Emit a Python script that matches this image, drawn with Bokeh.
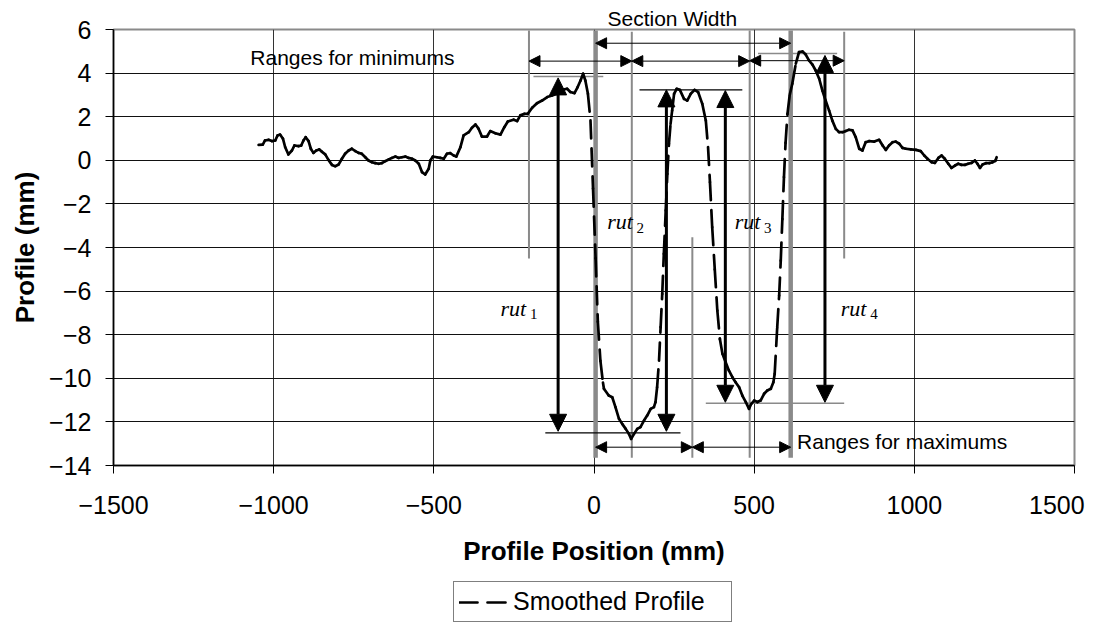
from bokeh.plotting import figure
from bokeh.layouts import column
from bokeh.models import (Range1d, FixedTicker, Arrow, NormalHead, Legend,
                          LegendItem, ColumnDataSource)
from bokeh.core.properties import value
from bokeh.embed import file_html
from bokeh.resources import INLINE

# ---------------- data ----------------
x_ticks = [-1500, -1000, -500, 0, 500, 1000, 1500]
y_ticks = [-14, -12, -10, -8, -6, -4, -2, 0, 2, 4, 6]

prof_x = [-1047, -1034, -1027, -1016, -1006, -995, -988, -980, -971, -964, -954, -943, -935,
          -922, -914, -907, -900, -891, -884, -876, -867, -858, -850, -839, -829, -818, -808,
          -797, -787, -777, -766, -756, -745, -735, -725, -714, -704, -693, -683, -672, -662,
          -652, -641, -631, -620, -610, -600, -589, -579, -568, -558, -547, -537, -527, -516,
          -511, -503, -490, -480, -469, -459, -449, -438, -430, -417, -407, -391, -381, -370,
          -360, -350, -334, -324, -308, -292, -280, -269, -251, -240, -230, -217, -207, -193,
          -178, -162, -146, -131, -115, -100, -84, -74, -61, -51, -42, -34, -27, -19, -11,
          -3, 5, 12, 20, 28, 31, 46, 57, 67, 78, 88, 99, 109, 116, 125, 135, 145, 156, 166,
          177, 187, 192, 197, 203, 208, 213, 218, 224, 229, 234, 239, 244, 250, 258, 268, 281,
          291, 302, 314, 325, 338, 349, 356, 362, 369, 377, 385, 393, 401, 411, 421, 432, 442,
          453, 463, 474, 484, 491, 500, 510, 520, 531, 541, 552, 560, 564, 572, 578, 583, 588,
          593, 598, 604, 611, 619, 630, 640, 651, 661, 671, 682, 692, 703, 713, 723, 734, 744,
          755, 765, 776, 786, 796, 807, 817, 828, 838, 848, 859, 875, 890, 901, 911, 921, 932,
          942, 953, 963, 973, 989, 1005, 1020, 1031, 1041, 1054, 1064, 1075, 1085, 1095, 1106,
          1116, 1127, 1137, 1147, 1158, 1168, 1179, 1189, 1197, 1205, 1213, 1224, 1234, 1244,
          1253, 1257]
prof_y = [0.71, 0.72, 0.91, 0.94, 0.88, 0.91, 1.14, 1.18, 0.99, 0.60, 0.27, 0.45, 0.68,
          0.65, 0.68, 0.91, 1.06, 0.88, 0.53, 0.34, 0.45, 0.50, 0.40, 0.27, 0.02, -0.21, -0.27,
          -0.19, 0.07, 0.30, 0.45, 0.53, 0.42, 0.34, 0.30, 0.14, -0.01, -0.09, -0.13, -0.16, -0.13,
          -0.04, 0.04, 0.11, 0.17, 0.11, 0.14, 0.17, 0.11, 0.07, -0.01, -0.16, -0.54, -0.65, -0.39,
          -0.01, 0.17, 0.14, 0.11, 0.07, 0.30, 0.33, 0.22, 0.17, 0.60, 1.14, 1.29, 1.49, 1.64,
          1.44, 1.09, 1.09, 1.34, 1.24, 1.18, 1.52, 1.78, 1.86, 1.80, 2.06, 2.13, 2.13, 2.41,
          2.62, 2.74, 2.90, 2.97, 3.05, 3.23, 3.28, 3.13, 3.08, 3.36, 3.66, 3.97, 3.66, 3.05, 1.83,
          -1.3, -4.5, -7.4, -9.2, -10.2, -10.48, -10.79, -10.87, -11.32, -11.86, -12.09, -12.32,
          -12.55, -12.78, -12.55, -12.32, -12.24, -11.94, -11.71,
          -11.40, -11.32, -11.09, -10.41, -9.19, -7.65, -6.13, -4.29, -2.30, -0.62, 0.76, 1.67,
          2.29, 3.05, 3.28, 3.23, 2.82,
          2.74, 3.05, 3.23, 3.13, 2.59, 1.83, 0.61, -1.0, -3.07, -5.0, -6.89, -8.2, -8.88, -9.26,
          -9.64, -9.95, -10.18,
          -10.41, -10.79, -11.09, -11.40, -11.17, -11.02, -11.09, -11.02, -10.71, -10.56, -10.48,
          -10.18, -9.80, -7.65, -6.2, -4.6, -2.7,
          -0.77, 0.8, 2.13, 3.0, 3.51, 4.43, 4.96, 4.99, 4.85, 4.58, 4.39, 4.12, 3.74, 3.20, 2.74,
          2.28, 1.82,
          1.44, 1.29, 1.29, 1.34, 1.40, 1.37, 1.06, 0.53, 0.45, 0.83, 0.88, 0.86, 0.94, 0.68, 0.48,
          0.68, 0.83,
          0.86, 0.76, 0.57, 0.53, 0.50, 0.48, 0.42, 0.22, 0.07, -0.09, -0.12, 0.11, 0.22, 0.07,
          -0.16,
          -0.35, -0.24, -0.16, -0.21, -0.21, -0.16, -0.12, -0.01, -0.16, -0.35, -0.19, -0.13,
          -0.13, -0.09,
          -0.02, 0.14]

# section / range marker lines (thin grey)
thin_x = [-203, 118, 307, 486, 781]
thin_top = [5.95, 5.9, -3.53, 5.95, 5.9]
thin_bot = [-4.5, -13.65, -13.65, -13.65, -4.5]
# section edges (thick grey)
thick_x = [5, 614]
thick_top = [5.95, 5.95]
thick_bot = [-13.65, -13.65]

# level lines
grey_lvl_x0 = [-189, 512, 349]
grey_lvl_x1 = [29, 759, 781]
grey_lvl_y = [3.84, 4.90, -11.14]
black_lvl_x0 = [142, -152]
black_lvl_x1 = [463, 270]
black_lvl_y = [3.23, -12.5]

# horizontal range arrows
h_x0 = [5, -203, 118, 486, 5, 307]
h_x1 = [614, 118, 486, 781, 307, 614]
h_y = [5.37, 4.55, 4.55, 4.57, -13.16, -13.16]

# rut depth arrows
v_x = [-112, 226, 410, 721]
v_top = [3.78, 3.23, 3.2, 4.81]
v_bot = [-12.43, -12.43, -11.1, -11.1]

rut_x = [-292, 41, 439, 770]
rut_y = [-7.12, -3.14, -3.14, -7.12]
sub_x = [-200, 133, 531, 862]
sub_y = [-7.38, -3.42, -3.42, -7.38]
sub_text = ["1", "2", "3", "4"]

note_text = ["Ranges for minimums", "Ranges for maximums"]
note_x = [-1073, 634]
note_y = [4.38, -13.23]

series_name = "Smoothed Profile"

# ---------------- main figure ----------------
W, H1, H2 = 1105, 580, 44
p = figure(width=W, height=H1, output_backend="svg", toolbar_location=None,
           x_range=Range1d(-1500, 1500), y_range=Range1d(-14, 6),
           min_border_left=113, min_border_right=31, min_border_top=29,
           min_border_bottom=H1 - 29 - 436, background_fill_color="white",
           border_fill_color="white")

p.outline_line_color = "#8a8a8a"
p.outline_line_width = 2

# "Section Width" caption sits just above the frame
p.title.text = "Section Width"
p.title.align = "left"
p.title.offset = 494
p.title.standoff = 0
p.title.text_font = "Liberation Sans"
p.title.text_font_size = "21px"
p.title.text_font_style = "normal"
p.title.text_color = "black"

p.xaxis.ticker = FixedTicker(ticks=x_ticks)
p.yaxis.ticker = FixedTicker(ticks=y_ticks)
p.xgrid.ticker = FixedTicker(ticks=x_ticks)
p.ygrid.ticker = FixedTicker(ticks=y_ticks)
p.xgrid.grid_line_color = "#333333"
p.ygrid.grid_line_color = "#111111"
p.xgrid.grid_line_width = 1
p.ygrid.grid_line_width = 1

for ax in (p.xaxis[0], p.yaxis[0]):
    ax.axis_line_color = "black"
    ax.axis_line_width = 1.5
    ax.major_tick_line_color = "black"
    ax.major_tick_out = 8
    ax.major_tick_in = 0
    ax.minor_tick_line_color = None
    ax.major_label_text_font = "Liberation Sans"
    ax.major_label_text_font_size = "25px"
    ax.major_label_text_color = "black"
    ax.axis_label_text_font = "Liberation Sans"
    ax.axis_label_text_font_size = "26px"
    ax.axis_label_text_font_style = "bold"
    ax.axis_label_text_color = "black"

p.xaxis.axis_label = "Profile Position (mm)"
p.yaxis.axis_label = "Profile (mm)"
p.xaxis.major_label_standoff = 17
p.xaxis.axis_label_standoff = 14
p.yaxis.major_label_standoff = 14
p.yaxis.axis_label_standoff = 6
p.xaxis.major_label_overrides = {1500: "1500\u00a0\u00a0\u00a0"}

# marker lines
p.segment(x0=thin_x, y0=thin_top, x1=thin_x, y1=thin_bot, line_color="#8a8a8a", line_width=2)
p.segment(x0=thick_x, y0=thick_top, x1=thick_x, y1=thick_bot, line_color="#8a8a8a", line_width=4.5)
p.segment(x0=grey_lvl_x0, y0=grey_lvl_y, x1=grey_lvl_x1, y1=grey_lvl_y,
          line_color="#8a8a8a", line_width=1.5)
p.segment(x0=black_lvl_x0, y0=black_lvl_y, x1=black_lvl_x1, y1=black_lvl_y,
          line_color="black", line_width=1.2)

# profile, each segment dashed on its own
prof_style = dict(line_color="black", line_width=2.7, line_dash="18 10", line_cap="round")
src = ColumnDataSource(dict(x0=prof_x[:-1], y0=prof_y[:-1], x1=prof_x[1:], y1=prof_y[1:]))
p.segment("x0", "y0", "x1", "y1", source=src, **prof_style)

# horizontal arrows
hsrc = ColumnDataSource(dict(x0=h_x0, x1=h_x1, y=h_y))
p.add_layout(Arrow(start=NormalHead(size=11, fill_color="black", line_color="black", line_width=1),
                   end=NormalHead(size=11, fill_color="black", line_color="black", line_width=1),
                   x_start="x0", y_start="y", x_end="x1", y_end="y", source=hsrc,
                   line_color="black", line_width=1))

# vertical arrows
vsrc = ColumnDataSource(dict(x=v_x, t=v_top, b=v_bot))
p.add_layout(Arrow(start=NormalHead(size=17, fill_color="black", line_color="black", line_width=1),
                   end=NormalHead(size=17, fill_color="black", line_color="black", line_width=1),
                   x_start="x", y_start="t", x_end="x", y_end="b", source=vsrc,
                   line_color="black", line_width=3))

# texts
p.text(x=note_x, y=note_y, text=note_text, text_font=value("Liberation Sans"),
       text_font_size="21px", text_align="left", text_baseline="alphabetic",
       text_color="black", y_offset=-7)
p.text(x=rut_x, y=rut_y, text=["rut"] * 4, text_font=value("Liberation Serif"),
       text_font_style="italic", text_font_size="22px", text_align="left",
       text_baseline="alphabetic", text_color="black", y_offset=-7)
p.text(x=sub_x, y=sub_y, text=sub_text, text_font=value("Liberation Serif"),
       text_font_size="15px", text_align="left", text_baseline="alphabetic",
       text_color="black", y_offset=-7)

# ---------------- legend strip below ----------------
p2 = figure(width=W, height=H2, output_backend="svg", toolbar_location=None,
            x_range=Range1d(0, 1), y_range=Range1d(0, 1),
            x_axis_type=None, y_axis_type=None,
            min_border_left=0, min_border_right=0, min_border_top=0, min_border_bottom=0,
            background_fill_color="white", border_fill_color="white")
p2.outline_line_color = None
p2.xgrid.visible = False
p2.ygrid.visible = False
key = p2.segment(x0=[5], y0=[5], x1=[6], y1=[5], **prof_style)
legend = Legend(items=[LegendItem(label=series_name + "\u00a0\u00a0\u00a0", renderers=[key])],
                location=(340, 2), orientation="horizontal",
                label_text_font="Liberation Sans", label_text_font_size="25px",
                label_text_color="black", glyph_width=50, glyph_height=20,
                label_standoff=4, padding=5, margin=0, spacing=0,
                border_line_color="black", border_line_width=1,
                background_fill_color="white", background_fill_alpha=1)
p2.add_layout(legend)

layout = column(p, p2, spacing=0)
open("out.html", "w").write(file_html(layout, INLINE))
